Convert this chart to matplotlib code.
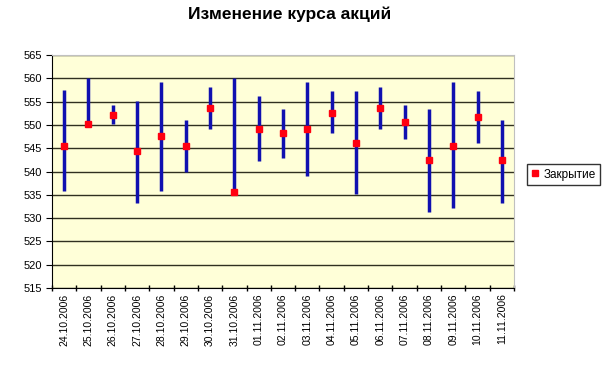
import matplotlib.pyplot as plt
import numpy as np

plt.rcParams['font.family'] = ['Liberation Sans', 'DejaVu Sans']

dates = ['24.10.2006', '25.10.2006', '26.10.2006', '27.10.2006', '28.10.2006',
         '29.10.2006', '30.10.2006', '31.10.2006', '01.11.2006', '02.11.2006',
         '03.11.2006', '04.11.2006', '05.11.2006', '06.11.2006', '07.11.2006',
         '08.11.2006', '09.11.2006', '10.11.2006', '11.11.2006']
high = [557.4, 560.0, 554.2, 555.2, 559.3, 551.1, 558.2, 560.0, 556.2, 553.4,
        559.3, 557.3, 557.3, 558.2, 554.2, 553.4, 559.3, 557.3, 551.1]
low = [535.9, 550.0, 550.2, 533.3, 535.9, 540.0, 549.1, 535.5, 542.2, 543.0,
       539.1, 548.2, 535.2, 549.1, 547.0, 531.3, 532.1, 546.1, 533.3]
close = [545.5, 550.2, 552.2, 544.3, 547.7, 545.5, 553.6, 535.7, 549.1, 548.2,
         549.1, 552.6, 546.1, 553.7, 550.7, 542.4, 545.5, 551.7, 542.4]

x = np.arange(len(dates))

fig = plt.figure(figsize=(6.04, 3.73), dpi=100)
ax = fig.add_axes([52 / 604, 1 - 288 / 373, 462 / 604, 233 / 373])
ax.set_facecolor('#FFFFD8')

ax.vlines(x, low, high, color='#1010B0', linewidth=2.5, zorder=3)
ax.plot(x, close, 's', color='#FF0010', markersize=5, linestyle='none',
        label='Закрытие', zorder=4)

ax.set_xlim(-0.5, len(dates) - 0.5)
ax.set_ylim(515, 565)
ax.set_yticks(np.arange(515, 566, 5))
ax.yaxis.grid(True, color='#303020', linewidth=1)
ax.set_axisbelow(True)

ax.set_xticks(x)
ax.set_xticklabels(dates, rotation=90, fontsize=7.5)
ax.set_xticks(np.arange(-0.5, len(dates), 1), minor=True)
ax.tick_params(axis='x', which='major', length=0, pad=4)
ax.tick_params(axis='x', which='minor', length=5, direction='inout', width=1)
ax.tick_params(axis='y', length=4, direction='out', labelsize=8, pad=3)

for s in ['top', 'right']:
    ax.spines[s].set_color('#C0C0C0')
ax.spines['left'].set_color('black')
ax.spines['bottom'].set_color('black')

fig.text(290 / 604, 1 - 14 / 373, 'Изменение курса акций', fontsize=12.5,
         fontweight='bold', ha='center', va='center')

fig.legend(loc='upper left', bbox_to_anchor=(521 / 604, 1 - 158 / 373),
           fontsize=8.5, frameon=True, fancybox=False, edgecolor='black',
           handlelength=0.6, handletextpad=0.4, borderpad=0.4, markerscale=1.0)

fig.savefig('out.png', dpi=100)
